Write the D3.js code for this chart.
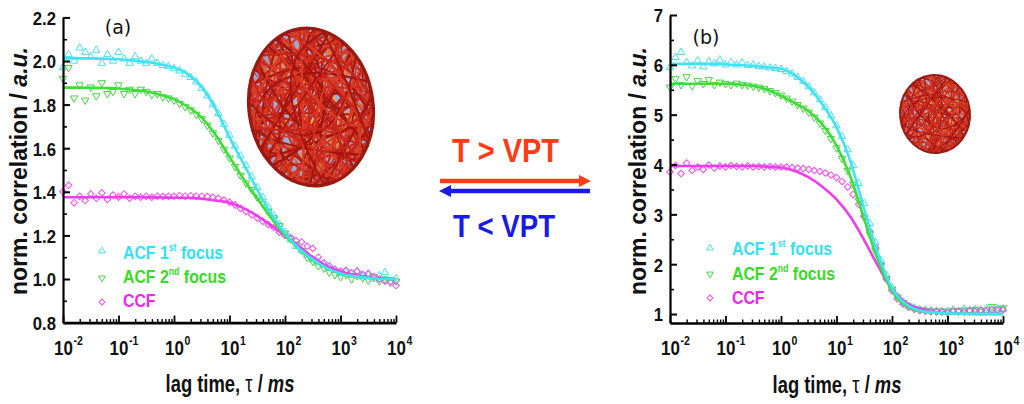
<!DOCTYPE html>
<html><head><meta charset="utf-8">
<script src="https://cdn.jsdelivr.net/npm/d3@7"></script>
<style>body{margin:0;background:#fff}svg{display:block}</style>
</head><body>
<svg id="c" width="1024" height="404"></svg>
<script>
// ---------- DATA ----------
const logTau = [-2,-1.9,-1.8,-1.7,-1.6,-1.5,-1.4,-1.3,-1.2,-1.1,-1,-0.9,-0.8,-0.7,-0.6,-0.5,-0.4,-0.3,-0.2,-0.1,0,0.1,0.2,0.3,0.4,0.5,0.6,0.7,0.8,0.9,1,1.1,1.2,1.3,1.4,1.5,1.6,1.7,1.8,1.9,2,2.1,2.2,2.3,2.4,2.5,2.6,2.7,2.8,2.9,3,3.1,3.2,3.3,3.4,3.5,3.6,3.7,3.8,3.9,4];
const fitLogTau = [-2,-1.75,-1.5,-1.25,-1,-0.75,-0.5,-0.25,0,0.25,0.5,0.75,1,1.25,1.5,1.75,2,2.25,2.5,2.75,3,3.25,3.5,3.75,4];
const xTickExp = [-2,-1,0,1,2,3,4];
const aYTicks = [0.8,1.0,1.2,1.4,1.6,1.8,2.0,2.2];
const aYMinor = [0.9,1.1,1.3,1.5,1.7,1.9,2.1];
const bYTicks = [1,2,3,4,5,6,7];
const bYMinor = [1.5,2.5,3.5,4.5,5.5,6.5];
const seriesNames = ["ACF 1|st| focus","ACF 2|nd| focus","CCF||"];

// panel (a) measured points
const aCyanData = [1.97,2.03,2.00,2.06,2.04,2.02,2.05,1.99,2.03,2.00,2.04,2.01,1.99,2.02,2.00,1.99,2.01,1.99,1.98,1.975,1.965,1.955,1.94,1.925,1.905,1.875,1.84,1.80,1.76,1.71,1.66,1.61,1.565,1.52,1.47,1.42,1.375,1.33,1.29,1.25,1.215,1.18,1.15,1.13,1.11,1.09,1.08,1.065,1.05,1.04,1.025,1.03,1.02,1.035,1.01,1.02,1.0,1.015,1.03,0.99,1.0];
const aGreenData = [1.92,1.97,1.83,1.89,1.82,1.88,1.84,1.90,1.85,1.86,1.89,1.85,1.87,1.85,1.87,1.86,1.845,1.85,1.835,1.83,1.82,1.805,1.79,1.775,1.755,1.735,1.705,1.67,1.635,1.595,1.555,1.515,1.475,1.44,1.41,1.375,1.345,1.31,1.28,1.245,1.21,1.185,1.16,1.13,1.10,1.08,1.06,1.05,1.03,1.02,1.01,1.02,1.00,1.015,1.005,0.995,1.01,0.99,1.0,0.985,0.99];
const aMagentaData = [1.40,1.43,1.35,1.38,1.36,1.39,1.37,1.395,1.365,1.385,1.375,1.39,1.37,1.38,1.375,1.38,1.375,1.38,1.378,1.38,1.38,1.382,1.38,1.382,1.38,1.38,1.378,1.375,1.37,1.362,1.352,1.34,1.325,1.31,1.295,1.28,1.265,1.25,1.235,1.215,1.20,1.19,1.175,1.17,1.15,1.14,1.10,1.075,1.06,1.045,1.035,1.04,1.03,1.035,1.02,1.025,1.01,1.0,0.99,0.985,0.97];
// panel (a) fits
const aCyanFit = [2.012,2.012,2.012,2.01,2.008,2.003,1.995,1.985,1.97,1.94,1.88,1.78,1.65,1.53,1.41,1.3,1.21,1.14,1.09,1.05,1.025,1.012,1.005,1.0,1.0];
const aGreenFit = [1.878,1.878,1.877,1.876,1.874,1.868,1.86,1.845,1.825,1.79,1.74,1.66,1.56,1.46,1.37,1.28,1.2,1.14,1.085,1.05,1.025,1.01,1.005,1.0,1.0];
const aMagentaFit = [1.375,1.375,1.375,1.375,1.375,1.375,1.375,1.374,1.373,1.372,1.368,1.36,1.35,1.325,1.29,1.245,1.2,1.15,1.1,1.06,1.035,1.018,1.008,1.003,1.0];

// panel (b) measured points
const bCyanData = [5.95,6.15,6.25,6.05,5.98,6.08,5.96,6.06,6.02,6.1,6.0,6.05,6.0,6.04,5.99,6.0,5.97,5.96,5.94,5.93,5.91,5.87,5.82,5.75,5.67,5.56,5.44,5.3,5.15,4.98,4.78,4.56,4.3,3.98,3.62,3.22,2.82,2.44,2.08,1.78,1.53,1.35,1.23,1.16,1.12,1.09,1.08,1.07,1.06,1.05,1.06,1.08,1.05,1.1,1.07,1.09,1.06,1.11,1.08,1.12,1.1];
const bGreenData = [5.55,5.72,5.6,5.76,5.58,5.68,5.62,5.7,5.6,5.65,5.62,5.6,5.63,5.6,5.59,5.57,5.55,5.52,5.48,5.44,5.39,5.33,5.27,5.2,5.13,5.05,4.95,4.83,4.68,4.52,4.33,4.12,3.88,3.6,3.28,2.94,2.6,2.27,1.97,1.71,1.5,1.34,1.23,1.16,1.11,1.09,1.07,1.06,1.05,1.06,1.04,1.07,1.05,1.08,1.06,1.09,1.05,1.08,1.15,1.1,1.12];
const bMagentaData = [3.85,3.98,3.82,4.03,3.88,3.95,3.9,3.99,3.93,3.97,3.95,3.98,3.96,3.95,3.97,3.95,3.96,3.95,3.96,3.95,3.95,3.95,3.94,3.93,3.92,3.9,3.88,3.86,3.83,3.79,3.74,3.66,3.55,3.4,3.2,2.95,2.66,2.34,2.0,1.7,1.47,1.3,1.2,1.14,1.1,1.07,1.06,1.05,1.05,1.04,1.03,1.05,1.06,1.04,1.07,1.05,1.08,1.06,1.09,1.07,1.08];
// panel (b) fits
const bCyanFit = [6.02,6.02,6.02,6.02,6.01,5.998,5.98,5.95,5.92,5.79,5.55,5.2,4.75,4.07,3.1,2.2,1.52,1.2,1.07,1.03,1.015,1.008,1.004,1.0,1.0];
const bGreenFit = [5.62,5.62,5.62,5.62,5.62,5.605,5.575,5.5,5.38,5.23,5.07,4.8,4.38,3.76,2.9,2.07,1.47,1.17,1.06,1.025,1.01,1.005,1.0,1.0,1.0];
const bMagentaFit = [3.97,3.97,3.97,3.97,3.97,3.97,3.97,3.957,3.94,3.87,3.74,3.55,3.3,2.95,2.48,1.96,1.5,1.23,1.1,1.04,1.02,1.01,1.003,1.0,1.0];

// ---------- STYLE ----------
const COLORS = {
  cyan:   {line:"#3fe4f2", mark:"#4fdcef", text:"#35e0f0"},
  green:  {line:"#3fdc3a", mark:"#45d445", text:"#36dc24"},
  magenta:{line:"#ee3cee", mark:"#f04cf0", text:"#ee26ee"}
};
const FONT = "'Liberation Sans', Arial, sans-serif";

const svg = d3.select("#c");
const defs = svg.append("defs");
const grad = defs.append("radialGradient").attr("id","ballGrad").attr("cx","50%").attr("cy","48%").attr("r","55%");
[["0%","#ffd84a"],["30%","#f6ae3e"],["60%","#e08a55"],["85%","#c44a2e"],["100%","#a01810"]]
  .forEach(s=>grad.append("stop").attr("offset",s[0]).attr("stop-color",s[1]));

// decorative yarn ball (not data)
function ball(cx,cy,rx,ry,rot,id,nRed,nBlue){
  const k = rx/62;
  defs.append("clipPath").attr("id",id).append("ellipse").attr("rx",rx).attr("ry",ry);
  const bg = svg.append("g").attr("transform",`translate(${cx},${cy}) rotate(${rot})`);
  bg.append("ellipse").attr("rx",rx).attr("ry",ry).attr("fill","url(#ballGrad)");
  const st = bg.append("g").attr("clip-path",`url(#${id})`);
  const phi = 0.6180339;
  const strand = (i,spread,sw,col,op)=>{
    const f1=(i*phi)%1, f2=(i*0.41421)%1, f3=(i*0.73205)%1;
    const a1 = 2*Math.PI*f1, a2 = a1 + Math.PI*(0.55+0.9*f2);
    const p1=[rx*1.05*Math.cos(a1), ry*1.05*Math.sin(a1)];
    const p2=[rx*1.05*Math.cos(a2), ry*1.05*Math.sin(a2)];
    const c=[rx*spread*Math.cos(2*Math.PI*f3), ry*spread*Math.sin(2*Math.PI*f3)];
    st.append("path").attr("d",`M${p1}Q${c} ${p2}`).attr("fill","none")
      .attr("stroke",col).attr("stroke-width",sw).attr("opacity",op).attr("stroke-linecap","round");
  };
  for(let i=0;i<nBlue;i++) strand(i+100,0.9,2.6*k,"#98b0e8",0.85);
  for(let i=0;i<nRed;i++) strand(i,1.1,(1.6+1.0*((i*0.7071)%1))*k,["#c8261c","#a8140e","#d93a26"][i%3],1);
  bg.append("ellipse").attr("rx",rx).attr("ry",ry).attr("fill","none").attr("stroke","#9a1a12").attr("stroke-width",3.4*k);
}

function narrow(parent,x,y,sx){
  return parent.append("g").attr("transform",`translate(${x},${y}) scale(${sx},1)`);
}

function panel(cfg){
  const x = d3.scaleLog().domain([1e-2,1e4]).range([cfg.x0,cfg.x1]);
  const y = d3.scaleLinear().domain(cfg.yDomain).range([cfg.yBottom,cfg.yTop]);
  const g = svg.append("g");

  const series = [
    {data:cfg.cyan, fit:cfg.cyanFit, c:COLORS.cyan, type:d3.symbolTriangle, size:24, rot:0},
    {data:cfg.green, fit:cfg.greenFit, c:COLORS.green, type:d3.symbolTriangle, size:24, rot:180},
    {data:cfg.magenta, fit:cfg.magentaFit, c:COLORS.magenta, type:d3.symbolSquare, size:22, rot:45}
  ];
  series.forEach(s=>{
    g.append("g").selectAll("path").data(s.data).join("path")
      .attr("transform",(d,i)=>`translate(${x(Math.pow(10,logTau[i]))},${y(d)}) rotate(${s.rot})`)
      .attr("d",d3.symbol(s.type,s.size)())
      .attr("fill","none").attr("stroke",s.c.mark).attr("stroke-width",1);
  });
  const line = d3.line().x((d,i)=>x(Math.pow(10,fitLogTau[i]))).y(d=>y(d)).curve(d3.curveMonotoneX);
  [series[2],series[1],series[0]].forEach(s=>{
    g.append("path").datum(s.fit).attr("d",line).attr("fill","none")
      .attr("stroke",s.c.line).attr("stroke-width",2.6);
  });

  // x axis
  const axY = cfg.yBottom;
  const xMajor = d3.axisBottom(x).tickValues(xTickExp.map(e=>Math.pow(10,e))).tickSize(-7).tickSizeOuter(0).tickFormat("");
  const minors=[];
  xTickExp.slice(0,-1).forEach(e=>{for(let m=2;m<=9;m++) minors.push(m*Math.pow(10,e));});
  const xMinor = d3.axisBottom(x).tickValues(minors).tickSize(-3.5).tickSizeOuter(0).tickFormat("");
  const gxm = g.append("g").attr("transform",`translate(0,${axY})`).call(xMinor);
  gxm.select(".domain").remove();
  gxm.selectAll(".tick line").attr("stroke","#000").attr("stroke-width",1.4);
  const gx = g.append("g").attr("transform",`translate(0,${axY})`).call(xMajor);
  gx.select(".domain").attr("stroke","#000").attr("stroke-width",2.6);
  gx.selectAll(".tick line").attr("stroke","#000").attr("stroke-width",1.8);
  gx.selectAll(".tick").each(function(d,i){
    const t = d3.select(this);
    narrow(t,0,355-axY,0.81).append("text").attr("text-anchor","middle")
      .attr("font-family",FONT).attr("font-weight","bold").attr("font-size",21).attr("fill","#111").text("10");
    narrow(t,10,345-axY,0.81).append("text").attr("text-anchor","start")
      .attr("font-family",FONT).attr("font-weight","bold").attr("font-size",13).attr("fill","#111").text(String(xTickExp[i]));
  });

  // y axis
  const yMajor = d3.axisLeft(y).tickValues(cfg.yTicks).tickSize(-7).tickSizeOuter(0).tickFormat(cfg.fmt);
  const yMinor = d3.axisLeft(y).tickValues(cfg.yMinor).tickSize(-4).tickSizeOuter(0).tickFormat("");
  const gym = g.append("g").attr("transform",`translate(${cfg.x0},0)`).call(yMinor);
  gym.select(".domain").remove();
  gym.selectAll(".tick line").attr("stroke","#000").attr("stroke-width",1.6);
  const gy = g.append("g").attr("transform",`translate(${cfg.x0},0)`).call(yMajor);
  gy.select(".domain").attr("stroke","#000").attr("stroke-width",2.2);
  gy.selectAll(".tick line").attr("stroke","#000").attr("stroke-width",2);
  gy.selectAll(".tick text").attr("font-family",FONT).attr("font-weight","bold").attr("font-size",19)
    .attr("fill","#111").attr("x",-7/0.88).attr("dy","0.36em").attr("transform","scale(0.88,1)");

  // axis titles
  const yt = g.append("g").attr("transform",`translate(${cfg.yTitleX},${cfg.yTitleY}) rotate(-90)`)
    .append("text").attr("text-anchor","middle").attr("font-family",FONT).attr("font-weight","bold").attr("font-size",23)
    .attr("fill","#111");
  yt.append("tspan").text("norm. correlation / ");
  yt.append("tspan").attr("font-style","italic").text("a.u.");
  const xt = narrow(g,cfg.xTitleX,cfg.xTitleY,0.8).append("text")
    .attr("text-anchor","middle").attr("font-family",FONT).attr("font-weight","bold").attr("font-size",23)
    .attr("fill","#111");
  xt.append("tspan").text("lag time, ");
  xt.append("tspan").attr("font-weight","normal").text("τ");
  xt.append("tspan").text(" / ");
  xt.append("tspan").attr("font-style","italic").text("ms");

  // panel label
  g.append("text").attr("x",cfg.labX).attr("y",cfg.labY).attr("text-anchor","middle")
    .attr("font-family","'DejaVu Sans', sans-serif").attr("font-size",19).attr("fill","#111").text(cfg.label);

  // legend
  series.forEach((s,i)=>{
    g.append("path").attr("transform",`translate(${cfg.legMX},${cfg.legMY[i]}) rotate(${s.rot})`)
      .attr("d",d3.symbol(s.type,s.size*0.8)()).attr("fill","none").attr("stroke",s.c.mark).attr("stroke-width",1);
    const parts = seriesNames[i].split("|");
    const tx = narrow(g,cfg.legTX,cfg.legTY[i],0.88).append("text")
      .attr("font-family",FONT).attr("font-size",18).attr("fill",s.c.text).attr("font-weight","bold");
    tx.append("tspan").text(parts[0]);
    if(parts[1]){
      tx.append("tspan").attr("font-size",10).attr("dy",-8).text(parts[1]);
      tx.append("tspan").attr("dy",8).text(parts[2]);
    }
  });
}

ball(311,107,62,79,-8,"clipA",95,26);
ball(935,114,35,39,-6,"clipB",80,20);

panel({x0:63,x1:396,yDomain:[0.8,2.2],yBottom:322.6,yTop:17.4,yTicks:aYTicks,yMinor:aYMinor,fmt:d3.format(".1f"),
  cyan:aCyanData,green:aGreenData,magenta:aMagentaData,cyanFit:aCyanFit,greenFit:aGreenFit,magentaFit:aMagentaFit,
  yTitleX:27,yTitleY:171,xTitleX:230,xTitleY:392,label:"(a)",labX:118,labY:34,
  legMX:102,legMY:[251,278,302],legTX:123,legTY:[259,283,307]});

panel({x0:670,x1:1003,yDomain:[0.82,7],yBottom:323,yTop:15,yTicks:bYTicks,yMinor:bYMinor,fmt:d3.format("d"),
  cyan:bCyanData,green:bGreenData,magenta:bMagentaData,cyanFit:bCyanFit,greenFit:bGreenFit,magentaFit:bMagentaFit,
  yTitleX:646,yTitleY:171,xTitleX:837,xTitleY:393,label:"(b)",labX:706,labY:44,
  legMX:710,legMY:[248,274,298],legTX:732,legTY:[255,280,304]});

// middle arrows and labels
const mid = svg.append("g");
mid.append("text").attr("x",452).attr("y",162).attr("font-family",FONT).attr("font-weight","bold")
  .attr("font-size",34).attr("fill","#ff3c16").attr("textLength",107).attr("lengthAdjust","spacingAndGlyphs").text("T > VPT");
mid.append("text").attr("x",453).attr("y",237).attr("font-family",FONT).attr("font-weight","bold")
  .attr("font-size",31).attr("fill","#1a1ae0").attr("textLength",102).attr("lengthAdjust","spacingAndGlyphs").text("T < VPT");
mid.append("line").attr("x1",440).attr("x2",582).attr("y1",181).attr("y2",181).attr("stroke","#ff3c16").attr("stroke-width",4.5);
mid.append("path").attr("d","M591,181L579,175L579,187Z").attr("fill","#ff3c16");
mid.append("line").attr("x1",448).attr("x2",590).attr("y1",191).attr("y2",191).attr("stroke","#1a1ae0").attr("stroke-width",4.5);
mid.append("path").attr("d","M439,191L451,185L451,197Z").attr("fill","#1a1ae0");
</script>
</body></html>
